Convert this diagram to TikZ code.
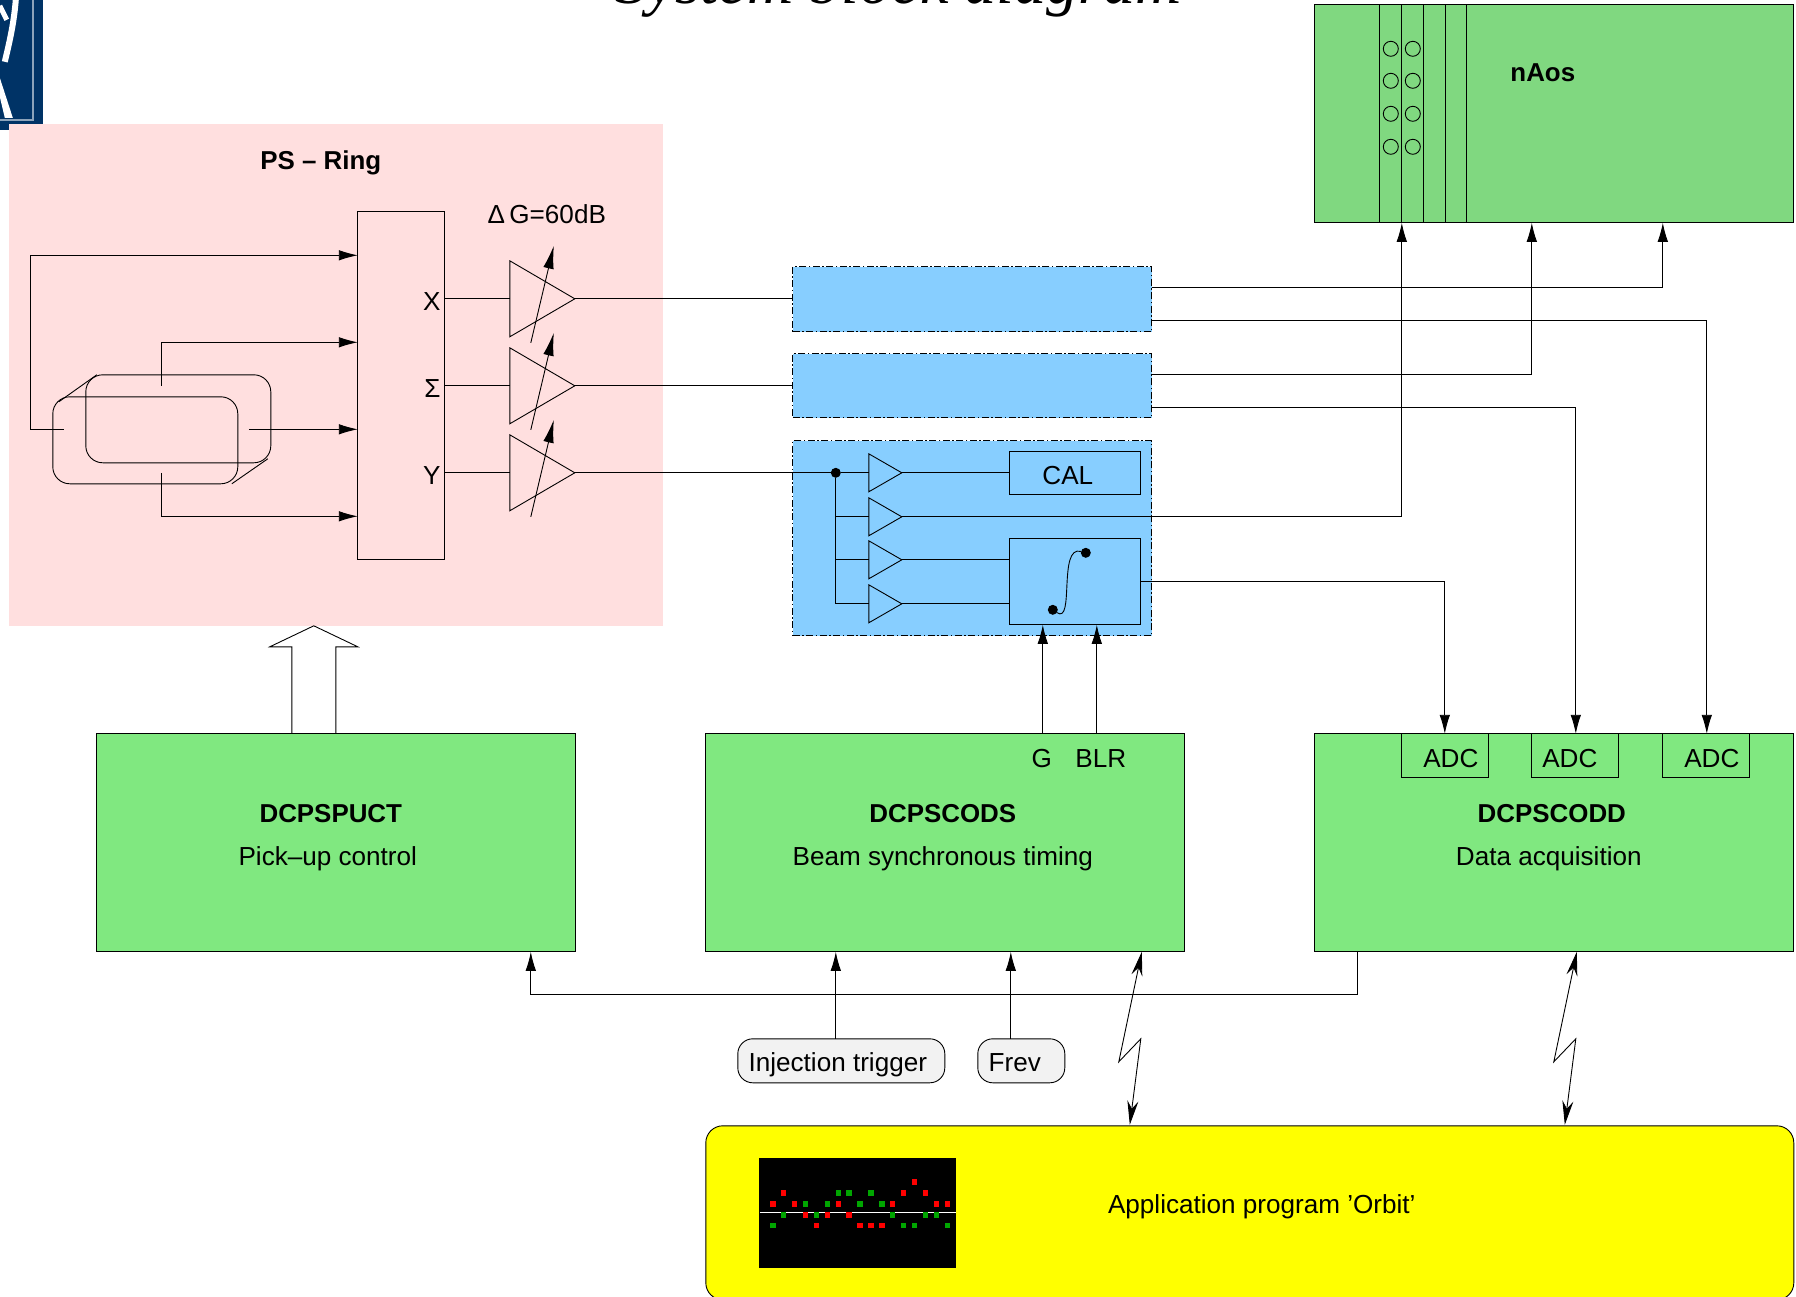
\documentclass[tikz,border=0pt]{standalone}
\usepackage{fontspec}
\setmainfont{Liberation Sans}
\newfontfamily\titlefont{Liberation Serif}
\usetikzlibrary{arrows.meta,shapes.geometric}
\definecolor{ringpink}{HTML}{FFDFDF}
\definecolor{chipblue}{HTML}{87CEFF}
\definecolor{crategreen}{HTML}{80E880}
\definecolor{naosgreen}{HTML}{80D880}
\definecolor{logoblue}{HTML}{003366}
\definecolor{pillgray}{HTML}{F2F2F2}
\definecolor{appyellow}{HTML}{FFFF00}
\tikzset{
  txt/.style={font=\fontsize{26.1}{30}\selectfont, inner sep=0pt, text height=18.8pt, text depth=0pt},
  boldtxt/.style={font=\fontsize{25.9}{30}\selectfont\bfseries, inner sep=0pt, text height=18.8pt, text depth=0pt},
  box/.style={draw, anchor=north west, inner sep=0pt, outer sep=0pt, line width=0.9pt},
  sig/.style={line width=0.9pt},
  arr/.style={line width=0.9pt, -{Latex[length=19pt,width=10.5pt]}},
  gainarr/.style={line width=0.9pt, -{Latex[length=23pt,width=10.5pt]}},
  zap/.style={line width=0.9pt, {Stealth[length=24pt,width=11pt]}-{Stealth[length=24pt,width=11pt]}},
  amp/.style={draw, line width=0.9pt, isosceles triangle, isosceles triangle stretches,
    inner sep=0pt, outer sep=0pt},
  bigamp/.style={amp, minimum height=65pt, minimum width=76pt},
  smallamp/.style={amp, minimum height=33pt, minimum width=38pt},
  chip/.style={box, fill=chipblue, dash pattern=on 7pt off 2.5pt on 1.5pt off 2.5pt},
  crate/.style={box, fill=crategreen, minimum width=479pt, minimum height=218pt},
  pill/.style={box, fill=pillgray, rounded corners=15pt, minimum height=44pt},
  adc/.style={box, minimum width=87pt, minimum height=44pt},
  dot/.style={circle, fill=black, inner sep=0pt, outer sep=0pt, minimum size=10pt},
}
\begin{document}
\begin{tikzpicture}[x=1pt,y=-1pt]
  \useasboundingbox (0,0) rectangle (1796,1297);
  \clip (0,0) rectangle (1796,1297);
  \begin{scope}[xshift=-0.2pt,yshift=0.2pt]

  % Title
  \node[font=\fontsize{64.2}{70}\selectfont\titlefont\itshape, inner sep=0pt, anchor=base] (title) at (899,4) {System block diagram};

  % Logo
  \fill[logoblue] (0,0) rectangle (43.5,130);
  \draw[white!55!logoblue, line width=2pt] (33,0) -- (33,120) -- (0,120);
  \draw[white, line width=6pt] (16,0) .. controls (14,25) and (9,45) .. (5,62);
  \draw[white, line width=5pt] (0,6) -- (7,20);
  \fill[white] (0,78) -- (13,118) -- (5,118) -- (0,97) -- cycle;

  % PS ring
  \fill[ringpink] (9,124) rectangle (663,626);
  \node[boldtxt] (ringlabel) at (321,160) {PS -- Ring};
  \node[txt] (gainlabel) at (547,214) {Δ\,G=60dB};
  \node[box, minimum width=87pt, minimum height=348pt] (mux) at (358,212) {};

  % Pick-up
  \draw[sig, rounded corners=17pt] (86,375) rectangle (271,463);
  \draw[sig, rounded corners=17pt] (53,397) rectangle (238,484);
  \draw[sig] (59,402) -- (97,375);
  \draw[sig] (232,484) -- (268,459);
  \coordinate (pkleft) at (64,429.5);
  \coordinate (pktop) at (162,386);
  \coordinate (pkright) at (249,429.5);
  \coordinate (pkbottom) at (162,473);
  \coordinate (muxa) at (358,255.5);
  \coordinate (muxb) at (358,342.5);
  \coordinate (muxc) at (358,429.5);
  \coordinate (muxd) at (358,516.5);
  \draw[arr] (pkleft) -- (31,429.5) |- (muxa);
  \draw[arr] (pktop) |- (muxb);
  \draw[arr] (pkright) -- (muxc);
  \draw[arr] (pkbottom) |- (muxd);

  % Blue boxes
  \node[chip, minimum width=359pt, minimum height=65pt] (chipx) at (793,267) {};
  \node[chip, minimum width=359pt, minimum height=64pt] (chips) at (793,354) {};
  \node[chip, minimum width=359pt, minimum height=195pt] (chipy) at (793,441) {};

  % Amplifiers
  \foreach \name/\lab/\yy in {x/X/299,s/Σ/386,y/Y/473}{
    \node[bigamp, anchor=lower side] (amp\name) at (510,\yy) {};
    \node[txt, anchor=east] (lab\name) at (441,\yy+2) {\lab};
    \coordinate (mux\name) at (445,\yy);
    \coordinate (chipin\name) at (793,\yy);
    \draw[sig] (mux\name) -- (amp\name.lower side);
    \draw[gainarr] (531,\yy+44) -- (554,\yy-53);
  }
  \draw[sig] (ampx.apex) -- (chipinx);
  \draw[sig] (amps.apex) -- (chipins);

  % Inside the third box
  \node[dot] (split) at (836,473) {};
  \draw[sig] (ampy.apex) -- (split);
  \node[box, minimum width=131pt, minimum height=43pt] (cal) at (1010,452) {};
  \node[txt] (callabel) at (1068,475) {CAL};
  \node[box, minimum width=131pt, minimum height=86pt] (shaper) at (1010,539) {};
  \foreach \name/\yy in {a/473,b/517,c/560,d/604}{
    \node[smallamp, anchor=lower side] (buf\name) at (869,\yy) {};
  }
  \draw[sig] (split) -- (bufa.lower side);
  \draw[sig] (split) |- (bufb.lower side);
  \draw[sig] (split) |- (bufc.lower side);
  \draw[sig] (split) |- (bufd.lower side);
  \draw[sig] (bufa.apex) -- (cal.west |- bufa.apex);
  \draw[sig] (bufc.apex) -- (shaper.west |- bufc.apex);
  \draw[sig] (bufd.apex) -- (shaper.west |- bufd.apex);
  \node[dot] (sa) at (1053,610) {};
  \node[dot] (sb) at (1086,553) {};
  \draw[sig] (sa) .. controls (1075,625) and (1058,545) .. (sb);

  % nAos crate
  \node[box, fill=naosgreen, minimum width=479pt, minimum height=218pt] (naos) at (1315,5) {};
  \foreach \xx in {1380,1402,1424,1446,1467}{
    \draw[sig] (\xx,5) -- (\xx,223);
  }
  \foreach \xx in {1391,1413}{
    \foreach \yy in {49,81,114,147}{
      \draw[sig] (\xx,\yy) circle (7.5pt);
    }
  }
  \node[boldtxt] (naoslabel) at (1543,72) {nAos};

  % Hollow arrow
  \draw[sig, fill=white] (292,734) -- (292,647) -- (270,647) -- (314,626) -- (358,647) -- (336,647) -- (336,734);

  % Crates
  \node[crate] (puct) at (97,734) {};
  \node[crate] (cods) at (706,734) {};
  \node[crate] (codd) at (1315,734) {};
  \node[boldtxt] (puctname) at (331,813) {DCPSPUCT};
  \node[txt] (puctlabel) at (328,856) {Pick--up control};
  \node[boldtxt] (codsname) at (943,813) {DCPSCODS};
  \node[txt] (codslabel) at (943,856) {Beam synchronous timing};
  \node[boldtxt] (coddname) at (1552,813) {DCPSCODD};
  \node[txt] (coddlabel) at (1549,856) {Data acquisition};
  \node[txt] (glabel) at (1042,758) {G};
  \node[txt] (blrlabel) at (1101,758) {BLR};

  % ADC
  \node[adc] (adca) at (1402,734) {};
  \node[adc] (adcb) at (1532,734) {};
  \node[adc] (adcc) at (1663,734) {};
  \node[txt] (adcatext) at (1451,758) {ADC};
  \node[txt] (adcbtext) at (1570,758) {ADC};
  \node[txt] (adcctext) at (1712,758) {ADC};

  % Long connections
  \coordinate (xouta) at (1152,288);
  \coordinate (xoutb) at (1152,321);
  \coordinate (souta) at (1152,375);
  \coordinate (soutb) at (1152,408);
  \coordinate (shaperout) at (1141,582);
  \draw[arr] (xouta) -| (1663,223);
  \draw[arr] (xoutb) -| (1707,734);
  \draw[arr] (souta) -| (1532,223);
  \draw[arr] (soutb) -| (1576,734);
  \draw[arr] (bufb.apex) -| (1402,223);
  \draw[arr] (shaperout) -| (1445,734);
  \draw[arr] (1043,734) -- (1043,625);
  \draw[arr] (1097,734) -- (1097,625);

  % Triggers
  \node[pill, minimum width=207pt] (inj) at (738,1039) {};
  \node[pill, minimum width=87pt] (frev) at (978,1039) {};
  \node[txt] (injlabel) at (838,1062) {Injection trigger};
  \node[txt] (frevlabel) at (1015,1062) {Frev};
  \draw[arr] (836,1039) -- (836,952);
  \draw[arr] (1011,1039) -- (1011,952);
  \draw[arr] (1358,952) |- (531,995) -- (531,952);

  % Application
  \node[box, fill=appyellow, rounded corners=17pt, minimum width=1088pt, minimum height=174pt] (app) at (706,1126) {};
  \node[txt] (applabel) at (1262,1204) {Application program 'Orbit'};
  \node[box, fill=black, minimum width=196pt, minimum height=109pt] (plot) at (760,1159) {};
  \draw[white, line width=1pt] (760,1213) -- (956,1213);
  \foreach \i/\l in {0/2,1/1,2/2,3/3,4/4,5/3,6/2,7/3,8/4,9/4,10/4,11/2,12/1,13/0,14/1,15/2,16/2}{
    \fill[red] (773+10.9*\i-2.7,1182.3+10.9*\l-2.7) rectangle ++(5.4,5.4);
  }
  \foreach \i/\l in {0/4,1/3,3/2,4/3,5/2,6/1,7/1,8/2,9/1,10/2,11/3,12/4,13/4,14/3,15/3,16/4}{
    \fill[green!65!black] (773+10.9*\i-2.7,1182.3+10.9*\l-2.7) rectangle ++(5.4,5.4);
  }

  % Radio links
  \draw[zap] (1142,952) -- (1119,1062) -- (1141,1039) -- (1130,1125);
  \draw[zap] (1577,952) -- (1554,1062) -- (1576,1039) -- (1565,1125);
  \end{scope}
\end{tikzpicture}
\end{document}
